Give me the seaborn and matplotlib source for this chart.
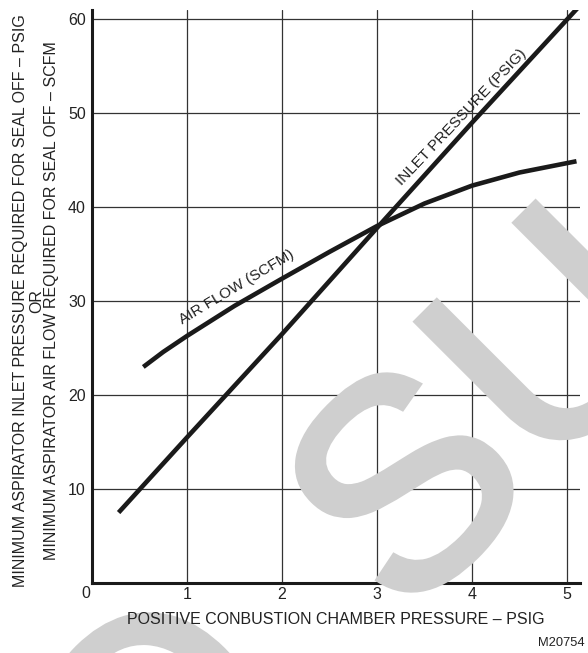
import numpy as np
import pandas as pd
import matplotlib as mpl
mpl.use('Agg')
import matplotlib.pyplot as plt
import matplotlib.patheffects as pe
import seaborn as sns

# values
inlet_x = [0.28, 1.0, 2.0, 3.0, 4.0, 5.12]
inlet_y = [7.5, 15.5, 26.5, 37.8, 49.0, 61.3]

air_x = [0.54, 0.75, 1.0, 1.5, 2.0, 2.5, 3.0, 3.5, 4.0, 4.5, 5.1]
air_y = [23.0, 24.6, 26.3, 29.5, 32.4, 35.25, 38.0, 40.4, 42.3, 43.7, 44.9]

x_ticks = [1, 2, 3, 4, 5]
y_ticks = [10, 20, 30, 40, 50, 60]

INK = '#222222'
FS = 11.5
WM_GREY = '#cfcfcf'


def main():
    sns.set_style('white')
    plt.rcParams['font.family'] = ['Liberation Sans', 'DejaVu Sans']
    W, H = 588, 653
    fig = plt.figure(figsize=(W / 100, H / 100), dpi=100)

    # grey watermark behind the chart
    wm = dict(fontsize=212, color=WM_GREY, rotation=45, ha='center', va='center',
              rotation_mode='anchor', zorder=0,
              path_effects=[pe.withStroke(linewidth=5, foreground=WM_GREY,
                                          joinstyle='miter')])
    fig.text(420 / W, 1 - 500 / H, 'S', **wm)
    fig.text(566 / W, 1 - 352 / H, 'U', **wm)
    fig.text(170 / W, 1 - 740 / H, 'O', **wm)

    ax = fig.add_axes([92 / W, 1 - 583 / H, (580 - 92) / W, (583 - 10) / H])
    ax.patch.set_alpha(0)

    df_in = pd.DataFrame({'x': inlet_x, 'y': inlet_y})
    df_air = pd.DataFrame({'x': air_x, 'y': air_y})
    sns.lineplot(data=df_in, x='x', y='y', ax=ax, color='#1a1a1a', lw=3.3,
                 solid_capstyle='butt', sort=False, zorder=3)
    sns.lineplot(data=df_air, x='x', y='y', ax=ax, color='#1a1a1a', lw=3.3,
                 solid_capstyle='butt', sort=False, zorder=3)

    ax.set_xlim(0, 5.137)
    ax.set_ylim(0, 61)
    ax.set_xticks(x_ticks)
    ax.set_yticks(y_ticks)
    ax.set_xticklabels([str(t) for t in x_ticks])
    ax.set_yticklabels([str(t) for t in y_ticks])
    ax.tick_params(length=0, labelsize=FS, colors=INK)
    ax.tick_params(axis='y', pad=4.5)
    ax.tick_params(axis='x', pad=3)
    ax.grid(True, color='#333333', lw=0.9, zorder=1)
    ax.set_axisbelow(True)
    sns.despine(ax=ax)
    for s in ['left', 'bottom']:
        ax.spines[s].set_linewidth(2.2)
        ax.spines[s].set_color('#1a1a1a')
    ax.set_xlabel('')
    ax.set_ylabel('')

    # line labels
    ax.text(1.52, 31.5, 'AIR FLOW (SCFM)', rotation=31, fontsize=11,
            ha='center', va='center', color=INK)
    ax.text(3.89, 49.6, 'INLET PRESSURE (PSIG)', rotation=46.5, fontsize=11,
            ha='center', va='center', color=INK)

    # shared origin label
    fig.text(86 / W, 1 - 593 / H, '0', fontsize=FS, ha='center', va='center', color=INK)

    fig.text(336 / W, 1 - 620 / H, 'POSITIVE CONBUSTION CHAMBER PRESSURE \u2013 PSIG',
             fontsize=FS, ha='center', va='center', color=INK)
    fig.text(585 / W, 1 - 643 / H, 'M20754', fontsize=9.3, ha='right', va='center',
             color=INK)

    fig.text(21 / W, 1 - 301 / H,
             'MINIMUM ASPIRATOR INLET PRESSURE REQUIRED FOR SEAL OFF \u2013 PSIG',
             rotation=90, fontsize=FS, ha='center', va='center', color=INK)
    fig.text(37 / W, 1 - 301 / H, 'OR', rotation=90, fontsize=FS,
             ha='center', va='center', color=INK)
    fig.text(52 / W, 1 - 301 / H,
             'MINIMUM ASPIRATOR AIR FLOW REQUIRED FOR SEAL OFF \u2013 SCFM',
             rotation=90, fontsize=FS, ha='center', va='center', color=INK)

    fig.savefig('out.png', dpi=100)


if __name__ == "__main__":
    main()
